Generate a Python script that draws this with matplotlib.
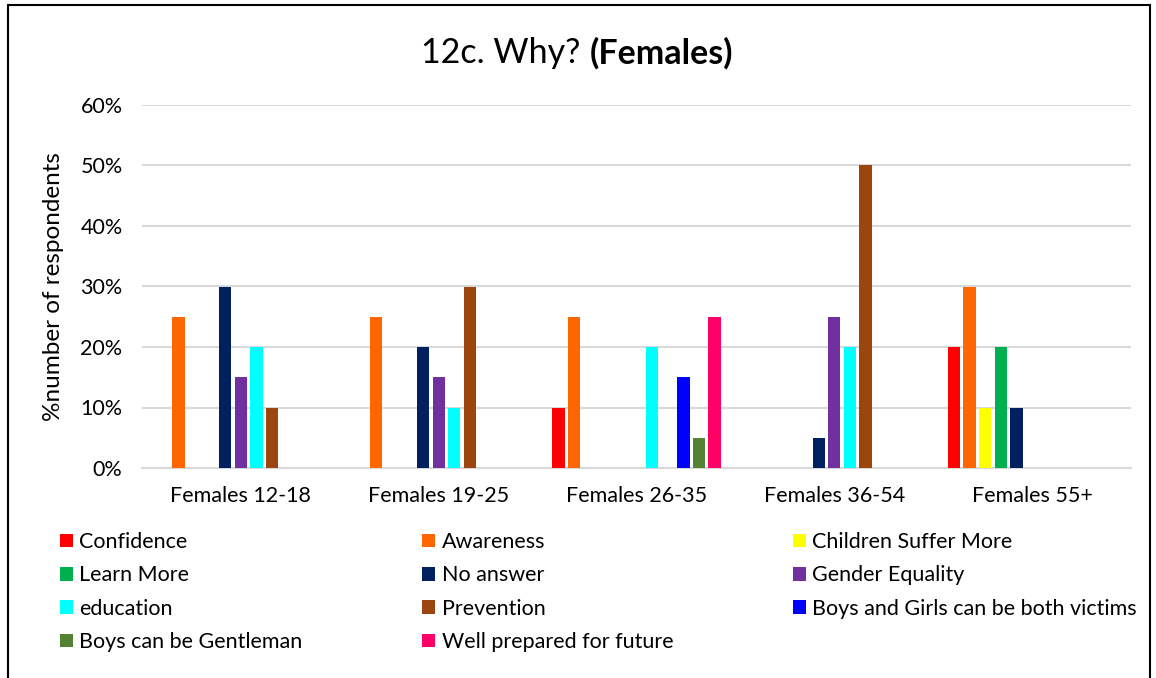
import numpy as np
import matplotlib
matplotlib.use('Agg')
import matplotlib.pyplot as plt
from matplotlib.patches import Rectangle, Patch

groups = ['Females 12-18', 'Females 19-25', 'Females 26-35', 'Females 36-54', 'Females 55+']
series = ['Confidence', 'Awareness', 'Children Suffer More', 'Learn More', 'No answer',
          'Gender Equality', 'education', 'Prevention', 'Boys and Girls can be both victims',
          'Boys can be Gentleman', 'Well prepared for future']
colors = ['#FF0000', '#FF6600', '#FFFF00', '#00B050', '#002060', '#7030A0',
          '#00FFFF', '#9C450E', '#0000FF', '#548235', '#FF0066']

# percent per series, one value per age group
confidence = [0, 0, 10, 0, 20]
awareness = [25, 25, 25, 0, 30]
children = [0, 0, 0, 0, 10]
learn_more = [0, 0, 0, 0, 20]
no_answer = [30, 20, 0, 5, 10]
gender_eq = [15, 15, 0, 25, 0]
education = [20, 10, 20, 20, 0]
prevention = [10, 30, 0, 50, 0]
both_victims = [0, 0, 15, 0, 0]
gentleman = [0, 0, 5, 0, 0]
well_prepared = [0, 0, 25, 0, 0]
values = [confidence, awareness, children, learn_more, no_answer, gender_eq,
          education, prevention, both_victims, gentleman, well_prepared]

plt.rcParams['font.family'] = ['Lato', 'DejaVu Sans']

fig = plt.figure(figsize=(11.56, 6.78), dpi=100)
ax = fig.add_axes([142/1156, 1-468/678, (1131-142)/1156, (468-105)/678])

x = np.arange(len(groups))
step = 0.079
width = 0.062
for i, (name, vals) in enumerate(zip(series, values)):
    v = np.array(vals) / 100.0
    pos = x + (i - 5) * step
    m = v > 0
    ax.bar(pos[m], v[m], width=width, color=colors[i], label=name, zorder=3)

ax.set_xlim(-0.5, len(groups) - 0.5)
ax.set_ylim(0, 0.6)
ax.set_yticks(np.arange(0, 0.61, 0.1))
ax.set_yticklabels(['%d%%' % round(t * 100) for t in np.arange(0, 0.61, 0.1)], fontsize=15.5)
ax.set_xticks(x)
ax.set_xticklabels(groups, fontsize=15.5)
ax.tick_params(axis='x', length=0, pad=13)
ax.tick_params(axis='y', length=0, pad=14)
ax.grid(axis='y', color='#D9D9D9', linewidth=1.5, zorder=0)
for s in ['top', 'right', 'left']:
    ax.spines[s].set_visible(False)
ax.spines['bottom'].set_color('#D9D9D9')
ax.spines['bottom'].set_linewidth(1.5)
ax.set_ylabel('%number of respondents', fontsize=17.5, labelpad=12)

# title: normal part + bold part
t1 = fig.text(580/1156, 1-53/678, '12c. Why?', fontsize=24.5, ha='right', va='center')
ax.annotate('(Females)', xy=(1, 0.5), xycoords=t1, xytext=(7, 0), textcoords='offset points',
            fontsize=24.5, fontweight='bold', ha='left', va='center')

# legend, row-wise order in 3 columns
order = [0, 3, 6, 9, 1, 4, 7, 10, 2, 5, 8]
handles = [Patch(facecolor=colors[i]) for i in order]
labels = [series[i] for i in order]
fig.legend(handles, labels, loc='upper left', ncol=3, mode='expand',
           bbox_to_anchor=(60/1156, 1-532/678, (1137-60)/1156, 0.0),
           frameon=False, fontsize=15.5, handlelength=0.6, handleheight=0.6,
           handletextpad=0.3, labelspacing=0.62, borderpad=0, borderaxespad=0)

fig.add_artist(Rectangle((8/1156, -0.02), (1150-8)/1156, 1-5/678+0.02,
                         transform=fig.transFigure, fill=False, edgecolor='black', linewidth=1.5))

fig.savefig('out.png', dpi=100)
